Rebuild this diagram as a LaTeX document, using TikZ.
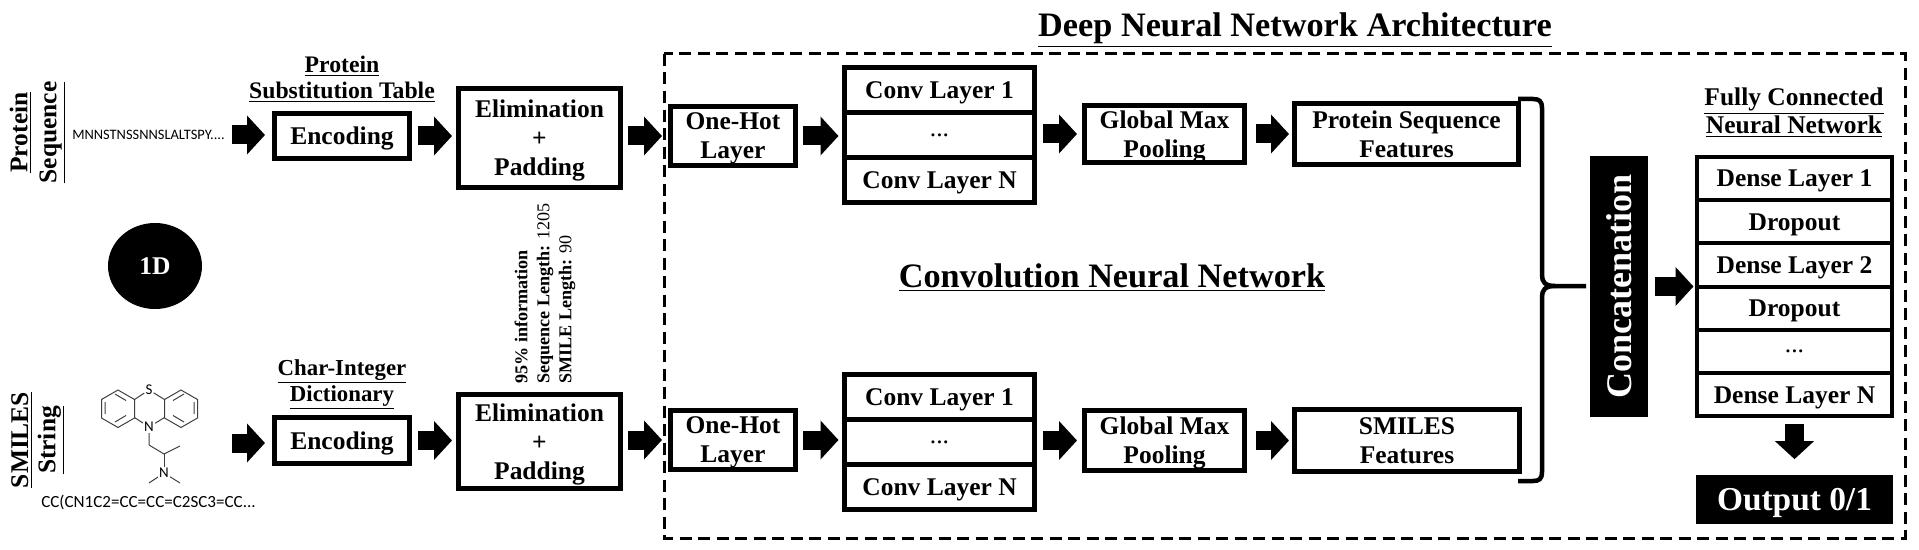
\documentclass[tikz,border=0pt]{standalone}
\usepackage{fontspec}
\setmainfont{Liberation Serif}
\newfontfamily\seqfont{Carlito}
\usetikzlibrary{positioning,arrows.meta,shapes.geometric}
\begin{document}
\begin{tikzpicture}[
  block/.style={rectangle,draw,line width=0.1cm,align=center,inner sep=0pt,text depth=0pt,font=\fontsize{14.5}{16.5}\selectfont\bfseries},
  layer/.style={block,outer sep=0pt,minimum width=3.8cm,minimum height=0.9cm},
  dense/.style={block,outer sep=0pt,line width=0.08cm,minimum width=3.9cm,minimum height=0.865cm},
  blackbox/.style={rectangle,fill=black,text=white,inner sep=0pt,align=center},
  bigarrow/.style={-{Triangle[length=0.36cm,width=0.76cm]},line width=0.38cm,shorten <=0.1cm,shorten >=0.1cm},
  header/.style={align=center,inner sep=0pt,font=\fontsize{13.5}{14.8}\selectfont\bfseries},
  vlabel/.style={rotate=90,align=center,inner sep=0pt,font=\fontsize{14.5}{16.5}\selectfont\bfseries},
  title/.style={inner sep=0pt,font=\fontsize{19.5}{22}\selectfont\bfseries},
  bond/.style={draw=black!75,line width=0.02cm}
]
\useasboundingbox (0,0) rectangle (38.38,-11);

% protein branch
\node[block,minimum width=2.7cm,minimum height=0.9cm] (enc1) at (6.84,-2.72) {Encoding};
\node[block,right=0.88cm of enc1,yshift=-0.04cm,minimum width=3.24cm,minimum height=1.98cm] (elim1) {Elimination\\+\\Padding};
\node[block,right=0.9cm of elim1,yshift=0.04cm,minimum width=2.5cm,minimum height=1.18cm] (hot1) {One-Hot\\Layer};
\node[layer,right=0.93cm of hot1,yshift=0.92cm] (conv1a) {Conv Layer 1};
\node[layer,below=0cm of conv1a] (conv1b) {{\normalfont ...}};
\node[layer,below=0cm of conv1b] (conv1c) {Conv Layer N};
\node[block,right=0.95cm of conv1b,yshift=0.02cm,minimum width=3.2cm,minimum height=1.14cm] (pool1) {Global Max\\Pooling};
\node[block,right=0.9cm of pool1,minimum width=4.48cm,minimum height=1.22cm] (feat1) {Protein Sequence\\Features};

% smiles branch
\node[block,minimum width=2.7cm,minimum height=0.92cm] (enc2) at (6.84,-8.81) {Encoding};
\node[block,right=0.88cm of enc2,yshift=-0.02cm,minimum width=3.24cm,minimum height=1.88cm] (elim2) {Elimination\\+\\Padding};
\node[block,right=0.9cm of elim2,yshift=0.03cm,minimum width=2.5cm,minimum height=1.18cm] (hot2) {One-Hot\\Layer};
\node[layer,right=0.93cm of hot2,yshift=0.86cm] (conv2a) {Conv Layer 1};
\node[layer,below=0cm of conv2a] (conv2b) {{\normalfont ...}};
\node[layer,below=0cm of conv2b] (conv2c) {Conv Layer N};
\node[block,right=0.95cm of conv2b,yshift=0.03cm,minimum width=3.2cm,minimum height=1.2cm] (pool2) {Global Max\\Pooling};
\node[block,right=0.9cm of pool2,minimum width=4.5cm,minimum height=1.24cm] (feat2) {SMILES\\Features};

% inputs
\node[vlabel] (name1) at (0.75,-2.65) {\underline{Protein}\\\underline{Sequence}};
\node[vlabel,font=\fontsize{14.5}{15.5}\selectfont\bfseries] (name2) at (0.76,-8.8) {\underline{SMILES}\\\underline{String}};
\node[inner sep=0pt,font=\seqfont\fontsize{8.2}{9}\selectfont] (seq1) at (2.97,-2.7) {MNNSTNSSNNSLALTSPY....};
\node[inner sep=0pt,font=\seqfont\fontsize{9.7}{11}\selectfont] (seq2) at (2.97,-10.04) {CC(CN1C2=CC=CC=C2SC3=CC...};
\coordinate (molout) at (4.64,-8.86);
\node[ellipse,fill=black,text=white,minimum width=1.88cm,minimum height=1.72cm,inner sep=0pt,font=\fontsize{14.5}{16}\selectfont\bfseries] (dim) at (3.1,-5.32) {1D};

% molecule
\foreach \cx in {2.36,3.62} {
  \draw[bond] (\cx,-7.8) -- ++(0.33,-0.19) -- ++(0,-0.37) -- ++(-0.33,-0.19) -- ++(-0.33,0.19) -- ++(0,0.37) -- cycle;
}
\draw[bond] (2.1,-8.28) -- (2.1,-8.04) (2.3,-7.88) -- (2.52,-8.01) (2.3,-8.44) -- (2.52,-8.31);
\draw[bond] (3.88,-8.28) -- (3.88,-8.04) (3.68,-7.88) -- (3.46,-8.01) (3.68,-8.44) -- (3.46,-8.31);
\node[inner sep=0.5pt,font=\seqfont\fontsize{8.5}{9}\selectfont] (sulfur) at (2.98,-7.8) {S};
\node[inner sep=0.5pt,font=\seqfont\fontsize{8.5}{9}\selectfont] (nring) at (2.98,-8.54) {N};
\node[inner sep=0.5pt,font=\seqfont\fontsize{8.5}{9}\selectfont] (namine) at (3.28,-9.46) {N};
\coordinate (ch2) at (2.98,-8.9);
\coordinate (ch) at (3.28,-9.08);
\coordinate (me1) at (3.6,-8.92);
\coordinate (me2) at (2.98,-9.66);
\coordinate (me3) at (3.6,-9.66);
\draw[bond] (2.69,-7.99) -- (sulfur) -- (3.29,-7.99);
\draw[bond] (2.69,-8.35) -- (nring) -- (3.29,-8.35);
\draw[bond] (nring) -- (ch2) -- (ch) -- (me1);
\draw[bond] (ch) -- (namine);
\draw[bond] (me2) -- (namine) -- (me3);

% headers and notes
\node[header,above=0.17cm of enc1] (table1) {\underline{Protein}\\\underline{Substitution Table}};
\node[header,above=0.1cm of enc2,font=\fontsize{13}{14.8}\selectfont\bfseries] (table2) {\underline{Char-Integer}\\\underline{Dictionary}};
\node[rotate=90,anchor=west,align=left,inner sep=0pt,font=\fontsize{10.3}{12.5}\selectfont\bfseries] (lengths) at (10.9,-7.68) {95\% information\\Sequence Length: {\normalfont 1205}\\SMILE Length: {\normalfont 90}};
\node[title] (deep) at (25.9,-0.6) {\underline{Deep Neural Network Architecture}};
\node[title] (cnn) at (22.24,-5.55) {\underline{Convolution Neural Network}};
\draw[line width=0.06cm,dash pattern=on 0.24cm off 0.13cm] (13.28,-1.08) rectangle (38.1,-10.76);

% fully connected part
\node[blackbox,rotate=90,minimum width=5.22cm,minimum height=1.16cm,font=\fontsize{20.5}{22}\selectfont\bfseries] (concat) at (32.38,-5.73) {Concatenation};
\node[header,font=\fontsize{14.5}{16}\selectfont\bfseries] (fcn) at (35.88,-2.25) {\underline{Fully Connected}\\\underline{Neural Network}};
\node[dense] (dense1) at (35.89,-3.57) {Dense Layer 1};
\node[dense,below=0cm of dense1] (drop1) {Dropout};
\node[dense,below=0cm of drop1] (dense2) {Dense Layer 2};
\node[dense,below=0cm of dense2] (drop2) {Dropout};
\node[dense,below=0cm of drop2] (dots) {{\normalfont ...}};
\node[dense,below=0cm of dots] (denseN) {Dense Layer N};
\node[blackbox,text depth=0pt,minimum width=3.94cm,minimum height=0.98cm,font=\fontsize{19}{21}\selectfont\bfseries] (output) at (35.89,-9.98) {Output 0/1};

% brace
\coordinate (bracetop) at (30.36,-1.98);
\coordinate (bracebot) at (30.36,-9.62);
\coordinate (bracetip) at (31.72,-5.72);
\draw[line width=0.09cm] (bracetop) -- ++(0.3,0) .. controls (30.78,-1.98) and (30.84,-2.02) .. (30.84,-2.16) -- (30.84,-5.5) .. controls (30.84,-5.64) and (30.9,-5.72) .. (31.1,-5.72) -- (bracetip);
\draw[line width=0.09cm] (bracebot) -- ++(0.3,0) .. controls (30.78,-9.62) and (30.84,-9.58) .. (30.84,-9.44) -- (30.84,-5.94) .. controls (30.84,-5.8) and (30.9,-5.72) .. (31.1,-5.72);

% arrows
\draw[bigarrow,shorten <=0.14cm,shorten >=0.14cm] (seq1.east) -- (seq1.east -| enc1.west);
\draw[bigarrow,shorten <=0cm,shorten >=0.14cm] (molout) -- (molout -| enc2.west);
\draw[bigarrow,shorten <=0.12cm,shorten >=0.08cm] (enc1) -- (enc1 -| elim1.west);
\draw[bigarrow,shorten <=0.12cm,shorten >=0.08cm] (enc2) -- (enc2 -| elim2.west);
\draw[bigarrow,shorten >=0.12cm] (hot1 -| elim1.east) -- (hot1);
\draw[bigarrow,shorten >=0.12cm] (hot2 -| elim2.east) -- (hot2);
\draw[bigarrow,shorten >=0.12cm] (hot1) -- (hot1 -| conv1b.west);
\draw[bigarrow,shorten >=0.12cm] (hot2) -- (hot2 -| conv2b.west);
\draw[bigarrow,shorten <=0.16cm] (pool1 -| conv1b.east) -- (pool1);
\draw[bigarrow,shorten <=0.16cm] (pool2 -| conv2b.east) -- (pool2);
\draw[bigarrow,shorten <=0.18cm,shorten >=0.06cm] (pool1) -- (feat1);
\draw[bigarrow,shorten <=0.18cm,shorten >=0.06cm] (pool2) -- (feat2);
\draw[bigarrow,yshift=-0.05cm,shorten <=0.14cm,shorten >=0.07cm] (concat.south) -- (concat.south -| drop2.west);
\draw[bigarrow,shorten <=0.16cm,shorten >=0.3cm] (denseN) -- (output);
\end{tikzpicture}
\end{document}
